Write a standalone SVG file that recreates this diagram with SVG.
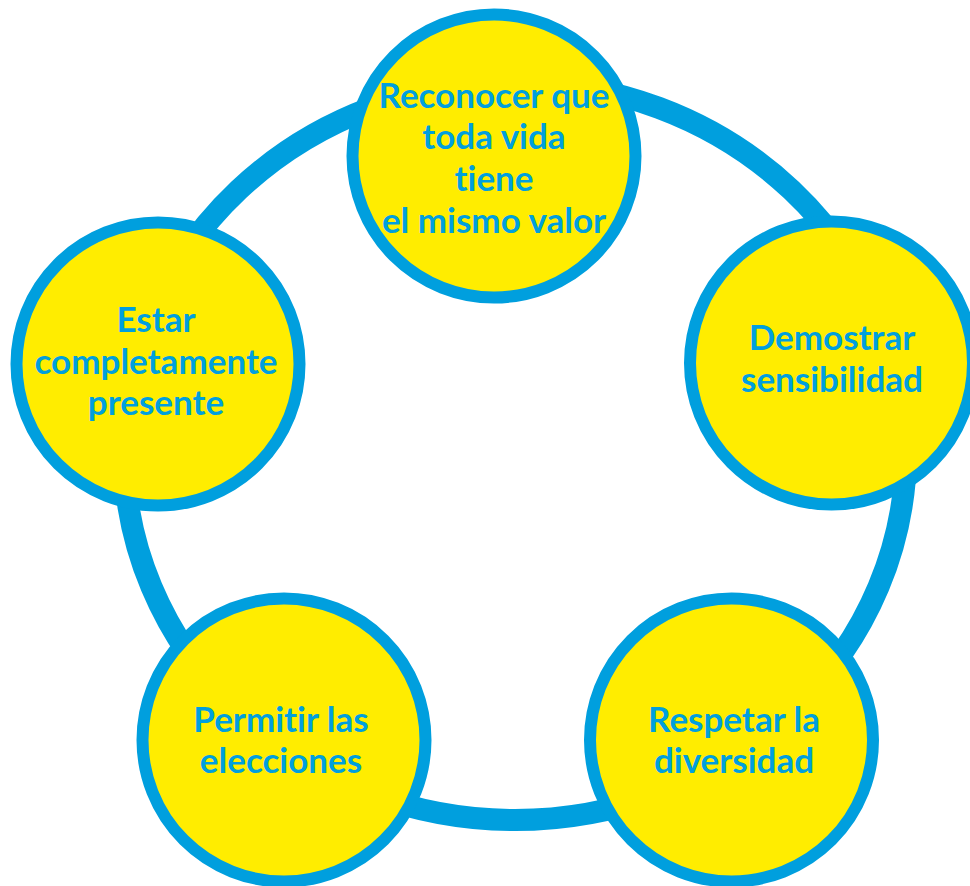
<svg xmlns="http://www.w3.org/2000/svg" width="970" height="886" viewBox="0 0 970 886">
  <style>
    .ring { fill: none; stroke: #009FDE; stroke-width: 22; }
    .node circle { fill: #FFED00; stroke: #009FDE; stroke-width: 12; }
    .node text { fill: #009FDE; font-family: Lato, "Open Sans", "Liberation Sans", sans-serif; font-weight: bold; font-size: 35px; text-anchor: middle; font-variant-ligatures: none; }
  </style>
  <rect width="970" height="886" fill="#FFFFFF"/>

  <!-- cycle ring linking the five nodes -->
  <g id="connectors">
    <ellipse class="ring" cx="515" cy="451" rx="391" ry="369"/>
  </g>

  <g id="node-reconocer" class="node">
    <circle cx="494" cy="156" r="141.5"/>
    <text x="494" y="108">Reconocer que</text>
    <text x="494" y="149">toda vida</text>
    <text x="494" y="191">tiene</text>
    <text x="494" y="233">el mismo valor</text>
  </g>

  <g id="node-demostrar" class="node">
    <circle cx="831.5" cy="363" r="141.5"/>
    <text x="832" y="350">Demostrar</text>
    <text x="832" y="392">sensibilidad</text>
  </g>

  <g id="node-respetar" class="node">
    <circle cx="731.5" cy="740" r="141.5"/>
    <text x="734" y="732">Respetar la</text>
    <text x="734" y="773">diversidad</text>
  </g>

  <g id="node-permitir" class="node">
    <circle cx="284" cy="740" r="141.5"/>
    <text x="281" y="732">Permitir las</text>
    <text x="281" y="773">elecciones</text>
  </g>

  <g id="node-estar" class="node">
    <circle cx="158" cy="364" r="141.5"/>
    <text x="156" y="332">Estar</text>
    <text x="156" y="374">completamente</text>
    <text x="156" y="415">presente</text>
  </g>
</svg>
